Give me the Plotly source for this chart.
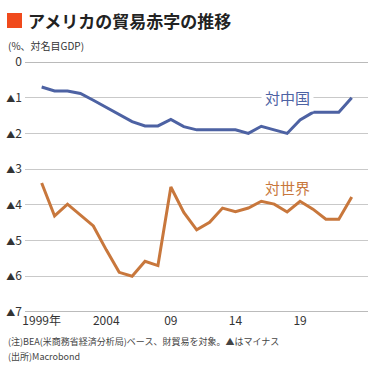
import plotly.graph_objects as go

years = list(range(1999, 2024))
china = [-0.70, -0.81, -0.81, -0.88, -1.07, -1.27, -1.47, -1.67, -1.79, -1.79,
         -1.61, -1.81, -1.90, -1.90, -1.90, -1.90, -2.00, -1.80, -1.90, -2.00,
         -1.62, -1.41, -1.41, -1.41, -1.00]
world = [-3.39, -4.31, -3.98, -4.28, -4.59, -5.26, -5.89, -6.00, -5.58, -5.70,
         -3.50, -4.21, -4.70, -4.49, -4.09, -4.19, -4.09, -3.90, -3.98, -4.20,
         -3.90, -4.12, -4.40, -4.40, -3.78]
ytick_vals = [0, -1, -2, -3, -4, -5, -6, -7]
ytick_text = ["0", "▲1", "▲2", "▲3", "▲4", "▲5", "▲6", "▲7"]
xtick_vals = [1999, 2004, 2009, 2014, 2019]
xtick_text = ["1999年", "2004", "09", "14", "19"]

FONT = "Noto Sans CJK JP"
BLUE = "#4d62a3"
ORANGE = "#c8773c"

ytick_html = [t.replace("▲", "<span style='font-size:9px'>▲</span>") for t in ytick_text]

fig = go.Figure()
fig.add_trace(go.Scatter(x=years, y=china, mode="lines",
                         line=dict(color=BLUE, width=3), hoverinfo="skip"))
fig.add_trace(go.Scatter(x=years, y=world, mode="lines",
                         line=dict(color=ORANGE, width=3), hoverinfo="skip"))

fig.update_layout(
    width=375, height=375,
    margin=dict(l=25, r=7, t=62, b=63),
    paper_bgcolor="white", plot_bgcolor="white",
    showlegend=False,
    font=dict(family=FONT, color="#333333"),
    xaxis=dict(range=[1997.71, 2024.26], tickvals=xtick_vals, ticktext=xtick_text,
               showgrid=False, zeroline=False, showline=False, ticks="",
               automargin=False,
               tickfont=dict(size=12, color="#333333"), fixedrange=True),
    yaxis=dict(range=[-7, 0], tickvals=ytick_vals, ticktext=ytick_html,
               showgrid=True, gridcolor="#c9c9c9", gridwidth=1,
               zeroline=False, showline=False, ticks="",
               automargin=False, ticklabelstandoff=2,
               tickfont=dict(size=12, color="#333333"), fixedrange=True),
    shapes=[
        dict(type="line", xref="paper", yref="y", x0=0, x1=1, y0=0, y1=0,
             line=dict(color="#777777", width=1)),
        dict(type="line", xref="paper", yref="y", x0=0, x1=1, y0=-7, y1=-7,
             line=dict(color="#777777", width=1)),
        dict(type="rect", xref="paper", yref="paper",
             x0=-18/343, x1=-3/343, y0=1 + 34/250, y1=1 + 49/250,
             fillcolor="#f04a1c", line=dict(width=0)),
    ],
    annotations=[
        dict(text="<b>アメリカの貿易赤字の推移</b>", xref="paper", yref="paper",
             x=1/343, y=1 + 42/250, xanchor="left", yanchor="middle",
             showarrow=False, font=dict(size=17, color="#222222", family=FONT)),
        dict(text="(%、対名目GDP)", xref="paper", yref="paper",
             x=-19/343, y=1 + 16/250, xanchor="left", yanchor="middle",
             showarrow=False, font=dict(size=10, color="#333333", family=FONT)),
        dict(text="対中国", x=2018.0, y=-1.0, xref="x", yref="y",
             xanchor="center", yanchor="middle", showarrow=False,
             bgcolor="white", borderpad=3,
             font=dict(size=15, color=BLUE, family=FONT)),
        dict(text="対世界", x=2018.0, y=-3.5, xref="x", yref="y",
             xanchor="center", yanchor="middle", showarrow=False,
             font=dict(size=15, color=ORANGE, family=FONT)),
        dict(text="(注)BEA(米商務省経済分析局)ベース、財貿易を対象。▲はマイナス",
             xref="paper", yref="paper", x=-19/343, y=-29/250,
             xanchor="left", yanchor="middle", showarrow=False,
             font=dict(size=9, color="#444444", family=FONT)),
        dict(text="(出所)Macrobond",
             xref="paper", yref="paper", x=-19/343, y=-44/250,
             xanchor="left", yanchor="middle", showarrow=False,
             font=dict(size=9, color="#444444", family=FONT)),
    ],
)

fig.write_html("out.html", config={"displayModeBar": False},
               post_script="document.body.style.margin='0';document.body.style.overflow='hidden';")
